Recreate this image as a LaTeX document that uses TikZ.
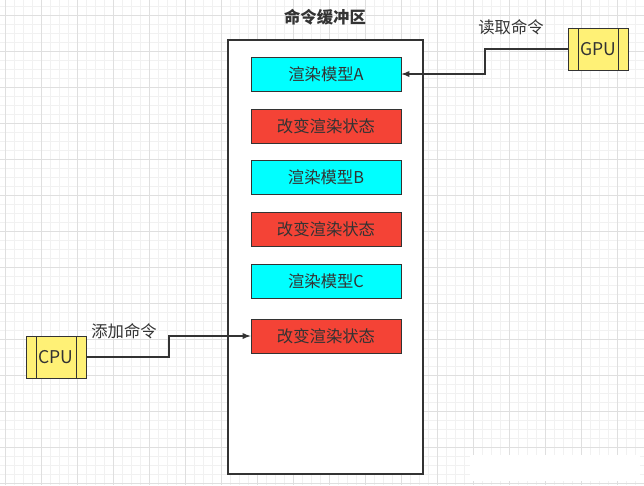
\documentclass[tikz,border=0pt]{standalone}
\usepackage{fontspec}
\setmainfont{Noto Sans CJK SC}
\usepackage{tikz}
\usetikzlibrary{arrows}

\definecolor{gridminor}{HTML}{F1F1F1}
\definecolor{gridmajor}{HTML}{DFDFDF}
\definecolor{cmdcyan}{HTML}{00FFFF}
\definecolor{cmdred}{HTML}{F44336}
\definecolor{unityellow}{HTML}{FFF176}
\definecolor{inkgray}{HTML}{333333}

\begin{document}
\begin{tikzpicture}[x=0.02cm,y=-0.02cm,
  every node/.style={font=\fontsize{9.3}{11}\selectfont, text=inkgray},
  model/.style={draw=inkgray, fill=cmdcyan, minimum width=3cm, minimum height=0.68cm, inner sep=0pt},
  state/.style={draw=inkgray, fill=cmdred, minimum width=3cm, minimum height=0.68cm, inner sep=0pt},
  unit/.style={draw=inkgray, fill=unityellow, minimum width=1.2cm, minimum height=0.84cm, inner sep=0pt, font=\fontsize{10}{12}\selectfont},
  link/.style={draw=inkgray, semithick, -latex}]
   \useasboundingbox (0,0) rectangle (644,485);
   % grid paper
   \foreach \g in {5,14,...,644} \draw[gridminor, line width=0.4pt] (\g,0) -- (\g,485);
   \foreach \g in {6,15,...,485} \draw[gridminor, line width=0.4pt] (0,\g) -- (644,\g);
   \foreach \g in {5,41,...,644} \draw[gridmajor, line width=0.5pt] (\g,0) -- (\g,485);
   \foreach \g in {15,51,...,485} \draw[gridmajor, line width=0.5pt] (0,\g) -- (644,\g);
   \fill[white] (470,455) rectangle (640,481);

   % buffer
   \draw (325,17) node (title) {\bfseries 命令缓冲区};
   \draw[draw=inkgray, thick, fill=white] (228,40) rectangle (423,474);
   \draw (326,74) node[model] (modelA) {渲染模型A};
   \draw (326,126) node[state] (state1) {改变渲染状态};
   \draw (326,177) node[model] (modelB) {渲染模型B};
   \draw (326,229) node[state] (state2) {改变渲染状态};
   \draw (326,281) node[model] (modelC) {渲染模型C};
   \draw (326,336) node[state] (state3) {改变渲染状态};

   % processors
   \draw (598,49) node[unit] (gpu) {GPU};
   \draw[inkgray] (578,28) -- (578,70) (618,28) -- (618,70);
   \draw (56,357) node[unit] (cpu) {CPU};
   \draw[inkgray] (36,336) -- (36,378) (76,336) -- (76,378);

   \draw (511,27) node (readcmd) {读取命令};
   \draw (124,331) node (addcmd) {添加命令};

   \path[link] (gpu.west) -- (485,49) -- (485,74) -- (modelA.east);
   \path[link] (cpu.east) -- (169,357) -- (169,336) -- (state3.west);

\end{tikzpicture}
\end{document}
